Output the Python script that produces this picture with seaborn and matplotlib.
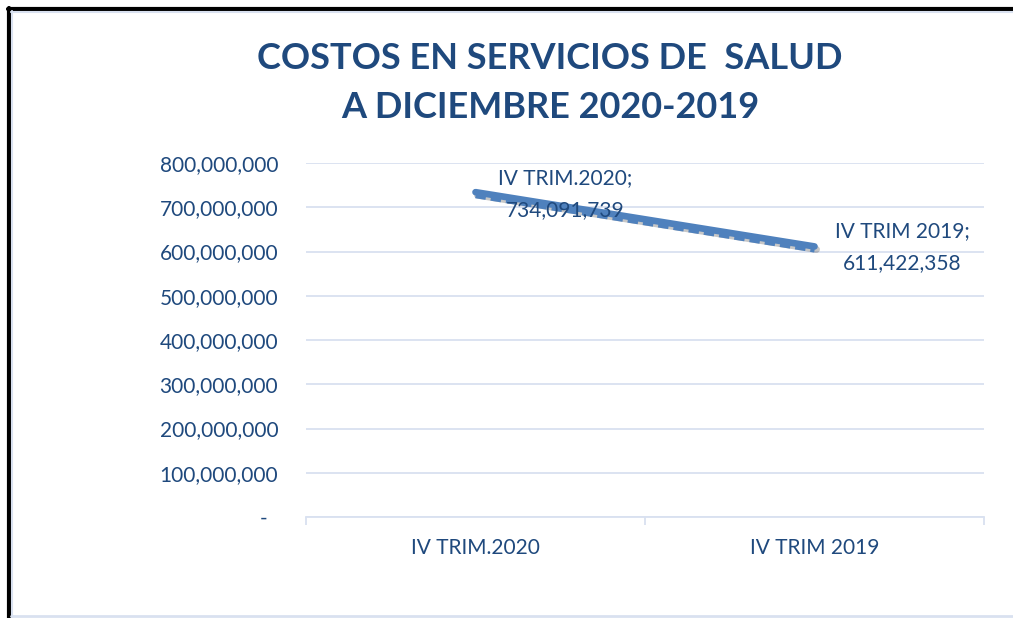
import numpy as np
import pandas as pd
import matplotlib
matplotlib.use("Agg")
import matplotlib.pyplot as plt
import matplotlib.transforms as mtransforms
from matplotlib.lines import Line2D
import seaborn as sns

categories = ["IV TRIM.2020", "IV TRIM 2019"]
values = [734091739, 611422358]
yticks = [0, 100000000, 200000000, 300000000, 400000000, 500000000, 600000000, 700000000, 800000000]
title = "COSTOS EN SERVICIOS DE  SALUD\nA DICIEMBRE 2020-2019"

sns.set_theme(style="white")
plt.rcParams['font.family'] = ['Lato', 'DejaVu Sans']

DARK = "#1F497D"
LINE = "#4F81BD"
GRID = "#D9E1F0"

W, H = 1013, 618
fig = plt.figure(figsize=(W/100, H/100), dpi=100)
fig.patch.set_facecolor("white")
ax = fig.add_axes([306/W, 1-517/H, (984-306)/W, (517-163)/H])

df = pd.DataFrame({"cat": categories, "val": values, "x": np.arange(len(categories))})

# shadow of main line
shadow = mtransforms.offset_copy(ax.transData, fig=fig, x=2, y=-3, units="dots")
ax.plot(df["x"], df["val"], color="#000000", alpha=0.22, linewidth=5, solid_capstyle="round",
        transform=shadow, zorder=2)

# linear trendline (dashed)
coef = np.polyfit(df["x"], df["val"], 1)
trend = np.polyval(coef, df["x"])
off = mtransforms.offset_copy(ax.transData, fig=fig, x=0, y=-4, units="dots")
ax.plot(df["x"], trend, color=LINE, linewidth=3, linestyle=(0, (2.5, 1.2)), transform=off, zorder=2.5)

# main line
sns.lineplot(data=df, x="x", y="val", ax=ax, color=LINE, linewidth=4.8,
             solid_capstyle="round", zorder=3)

ax.set_xlim(-0.5, len(categories) - 0.5)
ax.set_ylim(0, 800000000)
ax.set_yticks(yticks)
ax.set_yticklabels([f"{v:,}" if v else "-  " for v in yticks])
ax.set_xticks(range(len(categories)))
ax.set_xticklabels(categories)
ax.set_xlabel("")
ax.set_ylabel("")
ax.grid(axis="y", color=GRID, linewidth=1.3)
ax.set_axisbelow(True)
for s in ["top", "right", "left"]:
    ax.spines[s].set_visible(False)
ax.spines["bottom"].set_color(GRID)
ax.spines["bottom"].set_linewidth(1.3)
ax.tick_params(axis="y", length=0, pad=20, labelsize=15, labelcolor=DARK)
ax.tick_params(axis="x", which="major", length=0, pad=15, labelsize=15, labelcolor=DARK)
ax.set_xticks(np.arange(-0.5, len(categories), 1.0), minor=True)
ax.tick_params(axis="x", which="minor", bottom=True, length=6, width=1.3, color=GRID, direction="out")

# data labels
offsets = [(90, -2), (88, -1)]
for i, (c, v) in enumerate(zip(categories, values)):
    ax.annotate(f"{c};\n{v:,}", xy=(i, v), xytext=offsets[i], textcoords="offset pixels",
                ha="center", va="center", fontsize=15, color=DARK, linespacing=1.75, zorder=4)

fig.text(550/W, 1-83/H, title, ha="center", va="center", fontsize=26, fontweight="bold",
         color=DARK, linespacing=1.6)

# frame lines
fig.add_artist(Line2D([8/W, 1], [1-9/H, 1-9/H], color="black", linewidth=3, transform=fig.transFigure))
fig.add_artist(Line2D([9/W, 9/W], [0, 1-8/H], color="black", linewidth=3, transform=fig.transFigure))
fig.add_artist(Line2D([11/W, 1], [1-11.5/H, 1-11.5/H], color=GRID, linewidth=1.5, transform=fig.transFigure))
fig.add_artist(Line2D([11.5/W, 11.5/W], [0, 1-11/H], color=GRID, linewidth=1.5, transform=fig.transFigure))
fig.add_artist(Line2D([11/W, 1], [2/H, 2/H], color=GRID, linewidth=2, transform=fig.transFigure))

fig.savefig("out.png", dpi=100)
